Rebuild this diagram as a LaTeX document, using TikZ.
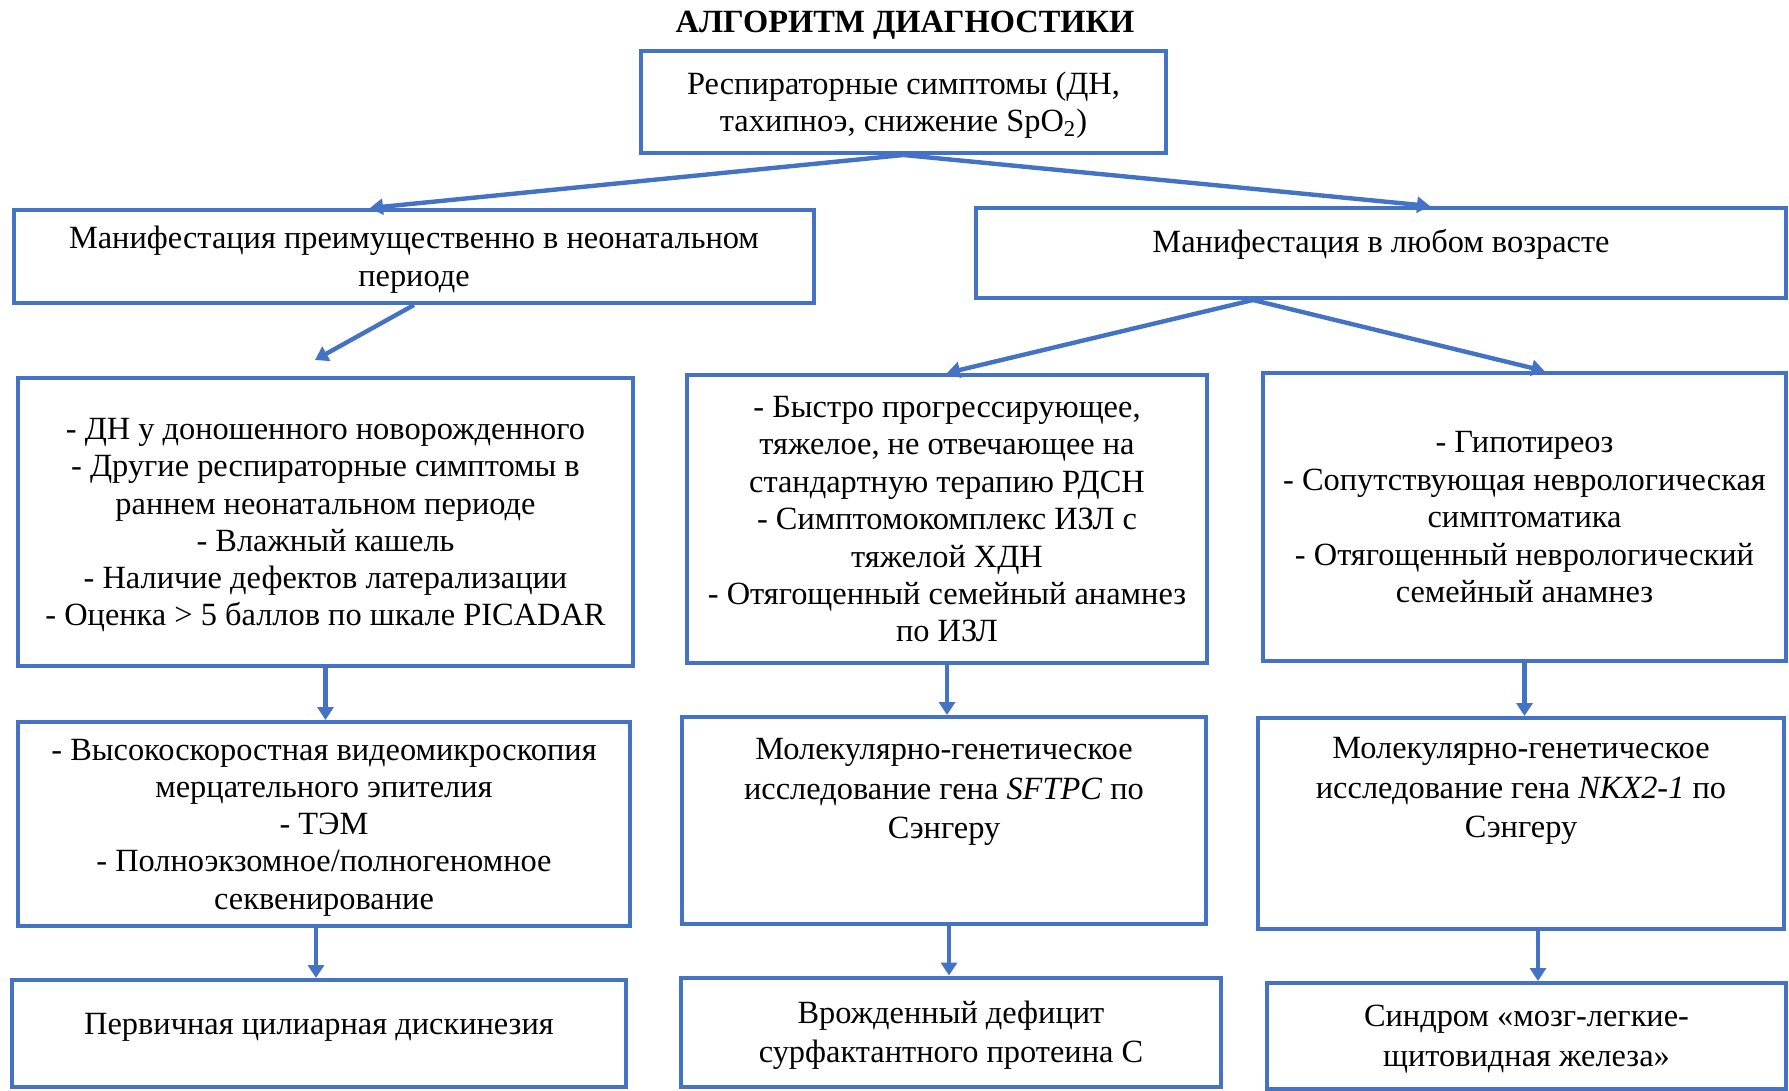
\documentclass[tikz,border=0pt]{standalone}
\usepackage{fontspec}
\setmainfont{Liberation Serif}
\usetikzlibrary{arrows.meta}

\definecolor{boxblue}{RGB}{68,114,196}

\tikzset{
  box/.style={draw=boxblue,line width=2pt,rectangle,inner sep=0pt,align=center,
    text depth=0pt,font=\fontsize{16.2}{18.6}\selectfont},
  loosebox/.style={box,font=\fontsize{16.2}{19.7}\selectfont},
  flow/.style={draw=boxblue,line width=2.2pt,-{Triangle[length=6.5pt,width=8pt]}}
}

\begin{document}
\begin{tikzpicture}[x=0.5pt,y=-0.5pt,line cap=butt,line join=miter]
        \useasboundingbox (0,0) rectangle (1789,1091);

        % Titel
        \node[font=\bfseries\fontsize{16.2}{18}\selectfont] (title) at (905,25)
            {АЛГОРИТМ ДИАГНОСТИКИ};

        % Obere Ebenen
        \node[box,minimum width=262.5pt,minimum height=51pt,font=\fontsize{16.2}{18.3}\selectfont] (resp) at (903.5,102)
            {Респираторные симптомы (ДН,\\тахипноэ, снижение SpO\textsubscript{2})};
        \node[box,minimum width=400pt,minimum height=46.5pt,font=\fontsize{16.2}{18.8}\selectfont] (neo) at (414,256.5)
            {Манифестация преимущественно в неонатальном\\периоде};
        \node[box,text height=22.5pt,text depth=22.5pt,minimum width=405pt] (anyage) at (1381,253)
            {Манифестация в любом возрасте};

        % Kriterien
        \node[box,minimum width=307.5pt,minimum height=144pt] (critL) at (325.5,522)
            {- ДН у доношенного новорожденного\\- Другие респираторные симптомы в\\раннем неонатальном периоде\\- Влажный кашель\\- Наличие дефектов латерализации\\- Оценка > 5 баллов по шкале PICADAR};
        \node[box,minimum width=260pt,minimum height=144pt,font=\fontsize{16.2}{18.7}\selectfont] (critM) at (947,519)
            {- Быстро прогрессирующее,\\тяжелое, не отвечающее на\\стандартную терапию РДСН\\- Симптомокомплекс ИЗЛ с\\тяжелой ХДН\\- Отягощенный семейный анамнез\\по ИЗЛ};
        \node[box,minimum width=261.5pt,minimum height=144pt,font=\fontsize{16.2}{18.7}\selectfont] (critR) at (1524.5,517)
            {- Гипотиреоз\\- Сопутствующая неврологическая\\симптоматика\\- Отягощенный неврологический\\семейный анамнез};

        % Untersuchungen
        \node[box,minimum width=306pt,minimum height=102pt] (testL) at (324,824)
            {- Высокоскоростная видеомикроскопия\\мерцательного эпителия\\- ТЭМ\\- Полноэкзомное/полногеномное\\секвенирование};
        \node[loosebox,minimum width=262pt,minimum height=103.5pt] (testM) at (944,820.5)
            {\parbox[b][82pt][t]{255pt}{\centering Молекулярно-генетическое\\исследование гена \textit{SFTPC} по\\Сэнгеру}};
        \node[loosebox,minimum width=263pt,minimum height=105.5pt] (testR) at (1521,823.5)
            {\parbox[b][86pt][t]{255pt}{\centering Молекулярно-генетическое\\исследование гена \textit{NKX2-1} по\\Сэнгеру}};

        % Diagnosen
        \node[box,text height=27pt,text depth=26.5pt,minimum width=307pt] (diagL) at (319,1033.5)
            {Первичная цилиарная дискинезия};
        \node[loosebox,minimum width=270pt,minimum height=54.5pt,font=\fontsize{16.2}{19.4}\selectfont] (diagM) at (951,1032)
            {Врожденный дефицит\\сурфактантного протеина С};
        \node[loosebox,minimum width=259.5pt,minimum height=53pt,font=\fontsize{16.2}{20}\selectfont] (diagR) at (1526.5,1036)
            {Синдром «мозг-легкие-\\щитовидная железа»};

        % Pfeile
        \draw[flow] (resp.south) -- ([xshift=-22pt]neo.north);
        \draw[flow] (resp.south) -- ([xshift=24.5pt]anyage.north);
        \draw[flow] (neo.south) -- ([xshift=-5.25pt,yshift=8pt]critL.north);
        \draw[flow] ([xshift=-64pt]anyage.south) -- (critM.north);
        \draw[flow] ([xshift=-64pt]anyage.south) -- ([xshift=10pt]critR.north);

        \draw[flow] (critL.south) -- (critL.south |- testL.north);
        \draw[flow] (critM.south) -- (critM.south |- testM.north);
        \draw[flow] (critR.south) -- (critR.south |- testR.north);

        \draw[flow] ([xshift=-4pt]testL.south) -- ([xshift=-4pt]testL.south |- diagL.north);
        \draw[flow] ([xshift=2.5pt]testM.south) -- ([xshift=2.5pt]testM.south |- diagM.north);
        \draw[flow] ([xshift=8.5pt]testR.south) -- ([xshift=8.5pt]testR.south |- diagR.north);
    \end{tikzpicture}
\end{document}
